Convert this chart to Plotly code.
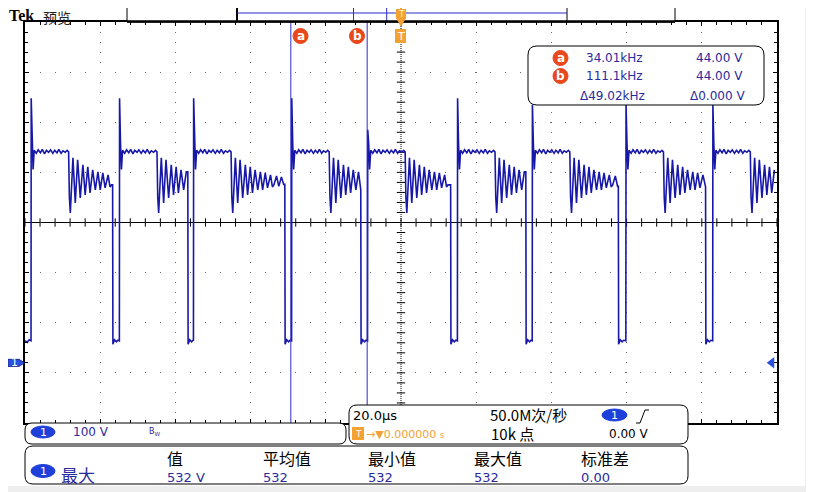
import numpy as np
import plotly.graph_objects as go

# ---- waveform: 20 us/div, 100 V/div, trigger at t=0 ----
rise_t = [-98.4, -74.9, -55.2, -29.1, -8.9, 15.0, 34.9, 59.8, 82.9]
fall_t = [-76.7, -56.7, -30.9, -10.7, 13.2, 33.2, 57.8, 81.0, 100.0]
peak_v = [528, 528, 528, 528, 465, 528, 515, 515, 515]
low_v = 44

# turn-off spike after each rising edge (dt in us from the edge)
spike_dt = [0.05, 0.3, 0.55, 0.85]
spike_v = [None, 438, 386, 424]

# flat top
plateau_dt = [1.4, 1.9, 2.5, 3.0, 3.6, 4.1, 4.7, 5.2, 5.8, 6.3, 6.9, 7.4, 8.0, 8.5, 9.1, 9.6, 10.0]
plateau_v = [418, 425, 419, 426, 417, 424, 420, 425, 418, 424, 419, 426, 418, 423, 420, 424, 421]

# ringing after the flat top
ring_dt = [10.2, 10.45, 11.15, 11.77, 12.4, 13.1, 13.8, 14.4, 15.1, 15.7, 16.4, 17.1,
           17.8, 18.4, 19.1, 19.7, 20.5, 21.0, 21.4, 22.1, 22.7, 23.4, 24.0]
ring_v = [331, 299, 409, 319, 405, 329, 395, 335, 391, 339, 385, 345,
          381, 345, 379, 349, 375, 351, 355, 373, 352, 371, 356]

# low level between edges (dt from falling edge)
low_dt = [0.08, 0.5, 1.0, 1.4]
low_vals = [37, 46, 42, 45]

cursor_t = [-29.3, -9.0]
trig_level = 0.0

t = [-100.0, -99.4, -98.9]
v = [44, 41, 46]
for i, r in enumerate(rise_t):
    t.append(r); v.append(low_v)
    for dt, val in zip(spike_dt, spike_v):
        t.append(r + dt); v.append(peak_v[i] if val is None else val)
    for dt, val in zip(plateau_dt, plateau_v):
        t.append(r + dt); v.append(val)
    for dt, val in zip(ring_dt, ring_v):
        if r + dt < fall_t[i]:
            t.append(r + dt); v.append(val)
    if i < len(rise_t) - 1:
        f = fall_t[i]
        t.append(f); v.append(v[-1])
        for dt, val in zip(low_dt, low_vals):
            if f + dt < rise_t[i + 1] - 0.05:
                t.append(f + dt); v.append(val)

# ---- screen geometry (pixels of the 814x492 window) ----
L, R, T, B = 25, 777, 22, 423
PAGE = 8  # body margin of the html page
FW, FH = 814 - PAGE, 492 - PAGE

def px(x):
    return (x - L) / (R - L)

def py(y):
    return (B - y) / (B - T)

def rrect(x0, y0, x1, y1, r):
    return (f"M{px(x0+r)},{py(y0)} L{px(x1-r)},{py(y0)} Q{px(x1)},{py(y0)} {px(x1)},{py(y0+r)} "
            f"L{px(x1)},{py(y1-r)} Q{px(x1)},{py(y1)} {px(x1-r)},{py(y1)} "
            f"L{px(x0+r)},{py(y1)} Q{px(x0)},{py(y1)} {px(x0)},{py(y1-r)} "
            f"L{px(x0)},{py(y0+r)} Q{px(x0)},{py(y0)} {px(x0+r)},{py(y0)} Z")

BLUE_T = "#2a2a9e"
OVAL = "#1e40d8"
ORANGE = "#f2a233"
RED = "#e8481c"
LAT = "DejaVu Sans"
CJK = "Noto Sans CJK SC"

shapes = []
ann = []

def box(x0, y0, x1, y1, r=8, fill="white"):
    shapes.append(dict(type="path", xref="paper", yref="paper", path=rrect(x0, y0, x1, y1, r),
                       fillcolor=fill, line=dict(color="black", width=1), layer="above"))

def prect(x0, y0, x1, y1, fill, line="rgba(0,0,0,0)", w=1):
    shapes.append(dict(type="rect", xref="paper", yref="paper", x0=px(x0), x1=px(x1),
                       y0=py(y0), y1=py(y1), fillcolor=fill, line=dict(color=line, width=w),
                       layer="above"))

def pline(x0, y0, x1, y1, color="black", w=1):
    shapes.append(dict(type="line", xref="paper", yref="paper", x0=px(x0), x1=px(x1),
                       y0=py(y0), y1=py(y1), line=dict(color=color, width=w), layer="above"))

def oval(cx, cy, w, h, color, label, size=11):
    shapes.append(dict(type="circle", xref="paper", yref="paper", x0=px(cx - w / 2), x1=px(cx + w / 2),
                       y0=py(cy - h / 2), y1=py(cy + h / 2), fillcolor=color,
                       line=dict(color=color, width=1), layer="above"))
    ann.append(dict(x=px(cx), y=py(cy), xref="paper", yref="paper", text=label, showarrow=False,
                    font=dict(family=LAT, size=size, color="white"), xanchor="center", yanchor="middle"))

def txt(x, y, s, size=12, color=BLUE_T, family=LAT, anchor="left"):
    ann.append(dict(x=px(x), y=py(y), xref="paper", yref="paper", text=s, showarrow=False,
                    xanchor=anchor, yanchor="middle", borderpad=0,
                    font=dict(family=family, size=size, color=color)))

# window frame
shapes.append(dict(type="rect", xref="paper", yref="paper", x0=px(0), x1=px(814), y0=py(0), y1=py(492),
                   fillcolor="#eeeeee", line=dict(width=0), layer="below"))
shapes.append(dict(type="rect", xref="paper", yref="paper", x0=px(3), x1=px(805), y0=py(4), y1=py(486),
                   fillcolor="white", line=dict(width=0), layer="below"))

# centre cross
shapes.append(dict(type="line", xref="paper", yref="y", x0=0, x1=1, y0=280, y1=280,
                   line=dict(color="black", width=1), layer="below"))
shapes.append(dict(type="line", xref="x", yref="paper", x0=0, x1=0, y0=0, y1=1,
                   line=dict(color="black", width=1, dash="1px,1px"), layer="below"))

# cursors
for ct in cursor_t:
    shapes.append(dict(type="line", xref="x", yref="paper", x0=ct, x1=ct, y0=0, y1=1,
                       line=dict(color="#2b2bc8", width=1), layer="above"))

# record view bar
prect(127, 6, 675, 22, "white", "black", 1)
pline(237, 6, 237, 22, "black", 2)
pline(567, 6, 567, 22, "black", 1)
pline(237, 13, 567, 13, "#2b2bc8", 1)
pline(353.5, 6, 353.5, 22, "#2b2bc8", 1)
pline(386.7, 6, 386.7, 22, "#2b2bc8", 1)
pline(127, 21.5, 675, 21.5, "black", 2.5)

# trigger markers
shapes.append(dict(type="path", xref="paper", yref="paper", fillcolor=ORANGE, line=dict(color=ORANGE, width=1),
                   layer="above", path=f"M{px(397)},{py(4)} L{px(405)},{py(4)} L{px(401)},{py(9)} Z"))
prect(396, 9, 406, 19, ORANGE)
shapes.append(dict(type="path", xref="paper", yref="paper", fillcolor=ORANGE, line=dict(color=ORANGE, width=1),
                   layer="above", path=f"M{px(397)},{py(19)} L{px(405)},{py(19)} L{px(401)},{py(26)} Z"))
prect(395, 29, 406, 43, ORANGE)
txt(401, 14, "T", 9, "#fff4c0", LAT, "center")
txt(400.5, 36.5, "T", 11, "white", LAT, "center")

# cursor labels
for cx, lab in [(300.5, "a"), (357, "b")]:
    oval(cx, 36, 15, 15, RED, f"<b>{lab}</b>", 12)

# ground marker (channel 1, at 0 V)
shapes.append(dict(type="path", xref="paper", yref="y", fillcolor="#2a50e0", line=dict(color="#1a2a90", width=1),
                   layer="above",
                   path=f"M{px(8)},7 L{px(19)},7 L{px(24.5)},0 L{px(19)},-7 L{px(8)},-7 Z"))
ann.append(dict(x=px(14), y=0, xref="paper", yref="y", text="1", showarrow=False,
                font=dict(family=LAT, size=11, color="white"), xanchor="center", yanchor="middle"))

# cursor readout
box(528, 46, 764, 105, 9)
oval(560.5, 58, 15, 15, RED, "<b>a</b>", 12)
oval(560.5, 76, 15, 15, RED, "<b>b</b>", 12)
txt(585, 58, "34.01kHz")
txt(695, 58, "44.00 V")
txt(585, 76, "111.1kHz")
txt(695, 76, "44.00 V")
txt(579, 96, "\u039449.02kHz")
txt(689, 96, "\u03940.000 V")

# channel box
box(25, 423, 346, 444, 7)
oval(43, 432, 24, 12, OVAL, "1")
txt(72, 432, "100 V")
txt(148, 432, "B<sub>W</sub>", 8)

# timebase box
box(349, 405, 688, 444, 8)
txt(352, 415, "20.0\u00b5s", 13, "black")
txt(489, 414, "50.0M\u6b21/\u79d2", 15, "black", CJK)
oval(614.5, 415, 25, 12, OVAL, "1")
shapes.append(dict(type="path", xref="paper", yref="paper", line=dict(color="black", width=1), layer="above",
                   path=f"M{px(636)},{py(423)} L{px(640)},{py(423)} L{px(645)},{py(410)} L{px(649)},{py(410)}"))
prect(352, 427, 364, 440, ORANGE)
txt(358, 433.5, "T", 9, "white", LAT, "center")
txt(365, 434, "\u2192\u25bc0.000000 <span style='font-size:9px'>s</span>", 11, ORANGE)
txt(490, 433, "10k \u70b9", 15, "black", CJK)
txt(608, 434, "0.00 V", 12, "black")

# measurement box
box(25, 446, 688, 484, 8)
for x0, s in [(166, "\u503c"), (262, "\u5e73\u5747\u503c"), (367, "\u6700\u5c0f\u503c"),
              (473, "\u6700\u5927\u503c"), (580, "\u6807\u51c6\u5dee")]:
    txt(x0, 458, s, 16, "black", CJK)
oval(43, 471, 24, 13, OVAL, "1")
txt(60, 474, "\u6700\u5927", 17, BLUE_T, CJK)
for x0, s in [(166, "532 V"), (262, "532"), (367, "532"), (473, "532"), (580, "0.00")]:
    txt(x0, 477, s, 13, BLUE_T)

# title (figure starts 8 px down the page)
ann.append(dict(x=px(8), y=py(8), xref="paper", yref="paper", yshift=2, text="<b>Tek</b>", showarrow=False,
                xanchor="left", yanchor="top", borderpad=0,
                font=dict(family="Liberation Serif", size=16, color="black")))
ann.append(dict(x=px(42), y=py(8), xref="paper", yref="paper", yshift=2, text="\u9884\u89c8", showarrow=False,
                xanchor="left", yanchor="top", borderpad=0,
                font=dict(family=CJK, size=14, color="#222222")))

# ---- figure ----
fig = go.Figure()

xt = np.arange(-100, 100.1, 4)
yt = np.arange(-120, 680.1, 20)
fig.add_trace(go.Scatter(x=xt, y=[280] * len(xt), mode="markers", hoverinfo="skip",
                         marker=dict(symbol="line-ns-open", size=6, color="black",
                                     line=dict(color="black", width=1))))
fig.add_trace(go.Scatter(x=[0] * len(yt), y=yt, mode="markers", hoverinfo="skip",
                         marker=dict(symbol="line-ew-open", size=6, color="black",
                                     line=dict(color="black", width=1))))

fig.add_trace(go.Scatter(x=t, y=v, mode="lines", line=dict(color="#1818a8", width=1.6)))

fig.add_trace(go.Scatter(x=[98.6], y=[trig_level], mode="markers",
                         marker=dict(symbol="triangle-left", size=10, color="#2a50e0")))

fig.update_layout(
    width=FW, height=FH,
    margin=dict(l=L - PAGE, r=FW - (R - PAGE), t=T - PAGE, b=FH - (B - PAGE)),
    paper_bgcolor="white", plot_bgcolor="white",
    showlegend=False,
    shapes=shapes, annotations=ann,
    xaxis=dict(range=[-100, 100], tick0=0, dtick=20, showgrid=True, gridcolor="#666666",
               griddash="1px,9px", gridwidth=1, zeroline=False, showticklabels=False,
               ticks="inside", ticklen=4, tickcolor="black", showline=True, linecolor="black",
               linewidth=2, mirror="ticks",
               minor=dict(dtick=4, ticks="inside", ticklen=3, tickcolor="black", showgrid=False)),
    yaxis=dict(range=[-120, 680], tick0=-20, dtick=100, showgrid=True, gridcolor="#666666",
               griddash="1px,14px", gridwidth=1, zeroline=False, showticklabels=False,
               ticks="inside", ticklen=4, tickcolor="black", showline=True, linecolor="black",
               linewidth=1.5, mirror="ticks",
               minor=dict(dtick=20, ticks="inside", ticklen=3, tickcolor="black", showgrid=False)),
)

fig.write_html("out.html")
